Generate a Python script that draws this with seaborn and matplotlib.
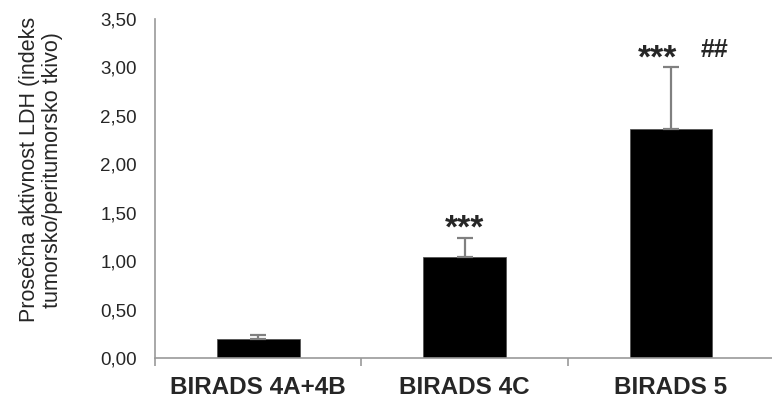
import numpy as np
import pandas as pd
import matplotlib
matplotlib.use("Agg")
import matplotlib.pyplot as plt
import seaborn as sns
from matplotlib.ticker import FuncFormatter, FixedLocator

categories = ["BIRADS 4A+4B", "BIRADS 4C", "BIRADS 5"]
means = [0.20, 1.04, 2.36]
errors = [0.04, 0.20, 0.64]
stars = ["", "***", "***"]
hashes = ["", "", "##"]

sns.set_theme(style="white")
plt.rcParams["font.family"] = ["Liberation Sans", "DejaVu Sans"]

df = pd.DataFrame({"group": categories, "value": means})

fig = plt.figure(figsize=(7.72, 4.0), dpi=100)
ax = fig.add_axes([0.201, 0.105, 0.799, 0.848])

sns.barplot(data=df, x="group", y="value", color="black", width=0.4,
            errorbar=None, saturation=1, ax=ax, edgecolor="#555555", linewidth=0.6)

x = np.arange(len(categories))
ax.errorbar(x, means, yerr=[np.zeros(len(means)), errors], fmt="none",
            ecolor="#808080", elinewidth=1.6, capsize=5.5, capthick=1.6, zorder=1)

for i in range(len(categories)):
    top = means[i] + errors[i]
    if stars[i]:
        off = -0.063 if hashes[i] else 0.0
        ax.text(x[i] + off, top, stars[i], ha="center", va="baseline",
                fontsize=24, fontweight="bold")
    if hashes[i]:
        ax.text(x[i] + 0.209, top + 0.11, hashes[i], ha="center",
                va="baseline", fontsize=18, fontweight="bold")

ax.set_ylim(0, 3.5)
ax.set_xlim(-0.5, 2.49)
ax.yaxis.set_major_locator(FixedLocator(np.arange(0, 3.51, 0.5)))
ax.yaxis.set_major_formatter(FuncFormatter(lambda v, p: f"{v:.2f}".replace(".", ",")))

ax.set_xticks(x)
ax.set_xticklabels(categories, fontsize=17.5, fontweight="bold")
ax.set_xticks([-0.5, 0.5, 1.5], minor=True)
ax.tick_params(axis="x", which="major", length=0, pad=13)
ax.tick_params(axis="x", which="minor", bottom=True, length=6, color="#999999",
               width=1.2, direction="out")
ax.tick_params(axis="y", length=5, color="#999999", width=1.2, direction="out",
               labelsize=13.5, pad=8)

ax.set_xlabel("")
ax.set_ylabel("Prosečna aktivnost LDH (indeks\ntumorsko/peritumorsko tkivo)",
              fontsize=15.5, linespacing=1.15)
ax.yaxis.set_label_coords(-0.149, 0.555)

for s in ["top", "right"]:
    ax.spines[s].set_visible(False)
for s in ["left", "bottom"]:
    ax.spines[s].set_color("#999999")
    ax.spines[s].set_linewidth(1.2)

fig.savefig("out.png", dpi=100)
